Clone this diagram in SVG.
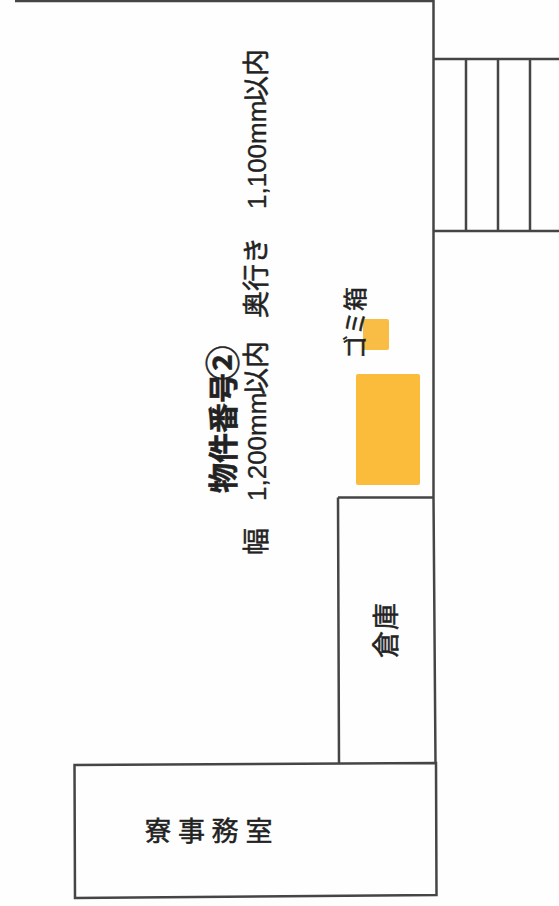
<svg xmlns="http://www.w3.org/2000/svg" width="559" height="906" viewBox="0 0 559 906">
<style>
.w{fill:none;stroke:#454545;stroke-width:2.500}
.t{font-family:"Liberation Sans","Noto Sans CJK JP",sans-serif;fill:#222;stroke:#222;stroke-width:.3}
.j{font-family:"Noto Sans CJK JP",sans-serif;fill:#222;stroke:#222;stroke-width:.5}
.b{font-weight:700}
</style>
<rect width="559" height="906" fill="#fefefe"/>
<g id="walls">
<path class="w" d="M15 1H433.500V59M433.500 59V497.500L435.500 763"/>
<path class="w" d="M434 59H559M434 231H559M466 59V231M498 59V231M530 59V231"/>
</g>
<g id="storage">
<path class="w" d="M338 497.500H434M338 497.500L339 764"/>
<text class="j" font-size="27" transform="translate(396 658) rotate(-90)" letter-spacing="1">倉庫</text>
</g>
<g id="office">
<path class="w" d="M74.500 765L436 763L436.500 895L75 898Z"/>
<g class="j" font-size="27">
<text x="144.500" y="841">寮</text><text x="178" y="841">事</text><text x="211.500" y="841">務</text><text x="245.500" y="841">室</text>
</g>
</g>
<g id="bin">
<rect x="363" y="319" width="26" height="31" rx="2" fill="#f9bd45"/>
<text class="j" font-size="24" transform="translate(364 359) rotate(-90)">ゴミ箱</text>
</g>
<g id="unit">
<rect x="356" y="374" width="64" height="111" rx="2" fill="#fbbc3c"/>
</g>
<g id="title">
<text class="j b" font-size="30" transform="translate(234 493) rotate(-90)">物件番号</text>
<text class="j b" font-size="35" transform="translate(236 380.500) rotate(-90)">②</text>
</g>
<g id="dimensions">
<text class="j" font-size="27" transform="translate(266 555) rotate(-90)">幅</text>
<text class="t" font-size="26" transform="translate(266 501) rotate(-90)">1,200mm</text>
<text class="j" font-size="27" transform="translate(266 395) rotate(-90)">以内</text>
<text class="j" font-size="27" transform="translate(266 318) rotate(-90)">奥行き</text>
<text class="t" font-size="26" transform="translate(266 209) rotate(-90)">1,100mm</text>
<text class="j" font-size="27" transform="translate(266 103) rotate(-90)">以内</text>
</g>
</svg>
